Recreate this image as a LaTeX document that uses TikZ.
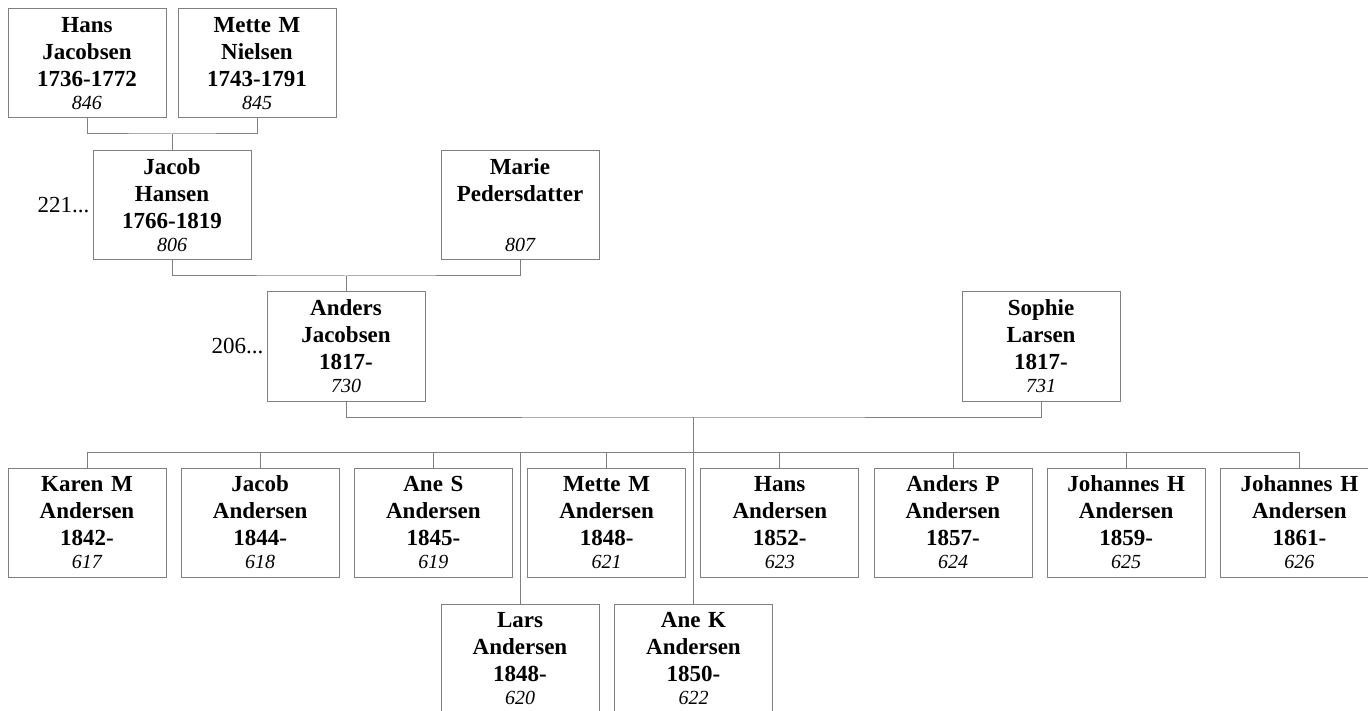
\documentclass[tikz,border=0pt]{standalone}
\usepackage{fontspec}
\setmainfont{Liberation Serif}
\usepackage{tikz}
\usetikzlibrary{calc}
\definecolor{boxgray}{RGB}{128,128,128}
\newcommand{\persnum}[1]{{\fontsize{20}{23}\selectfont\mdseries\itshape #1}}

\begin{document}
\begin{tikzpicture}[x=1pt, y=-1pt,
        person/.style={draw=boxgray, line width=1pt, inner sep=4pt, text width=150pt,
            align=center, minimum height=109pt, font=\fontsize{23}{27}\selectfont\bfseries},
        link/.style={draw=boxgray, line width=1pt},
        more/.style={anchor=east, inner sep=3pt, font=\fontsize{23}{27}\selectfont}]
        \useasboundingbox (0,0) rectangle (1368,711);

        % Grandparents
        \node[person] (hans) at (87, 63.5) {Hans\\Jacobsen\\1736-1772\\[-4pt]\persnum{846}};
        \node[person] (mette) at (257, 63.5) {Mette M\\Nielsen\\1743-1791\\[-4pt]\persnum{845}};

        % Parents of Anders
        \node[person] (jacob) at (172, 205.5) {Jacob\\Hansen\\1766-1819\\[-4pt]\persnum{806}};
        \node[person] (marie) at (520, 205.5) {Marie\\Pedersdatter\\\mbox{}\\[-4pt]\persnum{807}};
        \node[more] (jacobmore) at (jacob.west) {221...};

        % The couple
        \node[person] (anders) at (346, 346.5) {Anders\\Jacobsen\\1817-\\[-4pt]\persnum{730}};
        \node[person] (sophie) at (1041, 346.5) {Sophie\\Larsen\\1817-\\[-4pt]\persnum{731}};
        \node[more] (andersmore) at (anders.west) {206...};

        % Children
        \node[person] (karen) at (87, 522.5) {Karen M\\Andersen\\1842-\\[-4pt]\persnum{617}};
        \node[person] (jacobA) at (260.2, 522.5) {Jacob\\Andersen\\1844-\\[-4pt]\persnum{618}};
        \node[person] (aneS) at (433.4, 522.5) {Ane S\\Andersen\\1845-\\[-4pt]\persnum{619}};
        \node[person] (metteA) at (606.6, 522.5) {Mette M\\Andersen\\1848-\\[-4pt]\persnum{621}};
        \node[person] (hansA) at (779.8, 522.5) {Hans\\Andersen\\1852-\\[-4pt]\persnum{623}};
        \node[person] (andersP) at (953, 522.5) {Anders P\\Andersen\\1857-\\[-4pt]\persnum{624}};
        \node[person] (johannesA) at (1126.2, 522.5) {Johannes H\\Andersen\\1859-\\[-4pt]\persnum{625}};
        \node[person] (johannesB) at (1299.4, 522.5) {Johannes H\\Andersen\\1861-\\[-4pt]\persnum{626}};
        \node[person] (lars) at (520, 658.5) {Lars\\Andersen\\1848-\\[-4pt]\persnum{620}};
        \node[person] (aneK) at (693.5, 658.5) {Ane K\\Andersen\\1850-\\[-4pt]\persnum{622}};

        % Junction points
        \coordinate (mid0) at (172, 134);
        \coordinate (mid1) at (346, 276);
        \coordinate (mid2) at (693.5, 417);
        \coordinate (kidsbar) at (0, 452);

        % Marriage lines
        \draw[link] (hans.south) |- (mid0) -| (mette.south);
        \draw[link] (mid0) -- (jacob.north);
        \draw[link] (jacob.south) |- (mid1) -| (marie.south);
        \draw[link] (mid1) -- (anders.north);
        \draw[link] (anders.south) |- (mid2) -| (sophie.south);
        \draw[link] (mid2) -- (aneK.north);

        % Line over the children
        \draw[link] (karen.north |- kidsbar) -- (johannesB.north |- kidsbar);
        \foreach \kid in {karen, jacobA, aneS, metteA, hansA, andersP, johannesA, johannesB, lars}
            \draw[link] (\kid.north) -- (\kid.north |- kidsbar);
    \end{tikzpicture}
\end{document}
